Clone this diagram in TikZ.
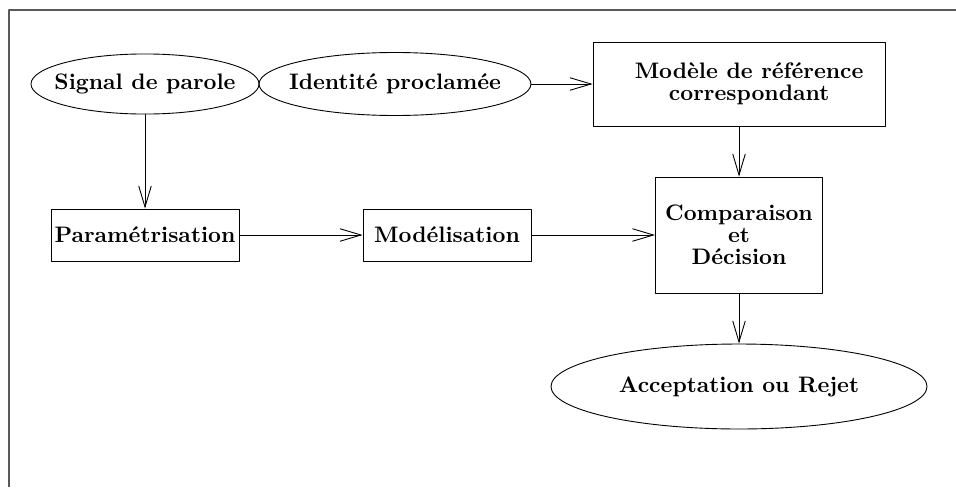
\documentclass[tikz,border=0pt]{standalone}
\usetikzlibrary{arrows.meta,shapes.geometric}
\begin{document}
\begin{tikzpicture}[x=0.446pt, y=-0.446pt, line join=round,
    >={Straight Barb[length=9.4pt,width=5.6pt]},
    font=\bfseries\fontsize{10}{9.8}\selectfont,
    bloc/.style={draw, rectangle, thin, inner sep=0pt, align=center},
    bulle/.style={draw, ellipse, thin, inner ysep=0pt, inner xsep=-10pt, align=center},
    cadre/.style={draw=black!65, line width=0.8pt}]
    \useasboundingbox (0,0) rectangle (956,487);
    \draw[cadre] (9,487) -- (9,10) -- (956,10);
    % premiere ligne
    \node[bulle, minimum width=101.7pt, minimum height=26.8pt] (signal) at (145,84) {Signal de parole};
    \node[bulle, minimum width=121.3pt, minimum height=28.1pt] (ident) at (395,84) {Identité proclamée};
    \node[bloc, minimum width=130.2pt, minimum height=37.5pt,
      label={[xshift=4.5pt, align=center]center:Modèle de référence\\correspondant}] (ref) at (739,84) {};
    % deuxieme ligne
    \node[bloc, minimum width=83.8pt, minimum height=23.2pt] (param) at (145,235) {Paramétrisation};
    \node[bloc, minimum width=74.9pt, minimum height=23.2pt] (model) at (447,235) {Modélisation};
    \node[bloc, minimum width=74.5pt, minimum height=51.7pt] (comp) at (739,235) {Comparaison\\et\\Décision};
    % sortie
    \node[bulle, minimum width=167.7pt, minimum height=37.9pt] (accept) at (739,386.5) {Acceptation ou Rejet};
    \draw[->] (signal) -- (param);
    \draw[->] (ident) -- (ref);
    \draw[->] (ref) -- (comp);
    \draw[->] (param) -- (model);
    \draw[->] (model) -- (comp);
    \draw[->] (comp) -- (accept);
\end{tikzpicture}
\end{document}
